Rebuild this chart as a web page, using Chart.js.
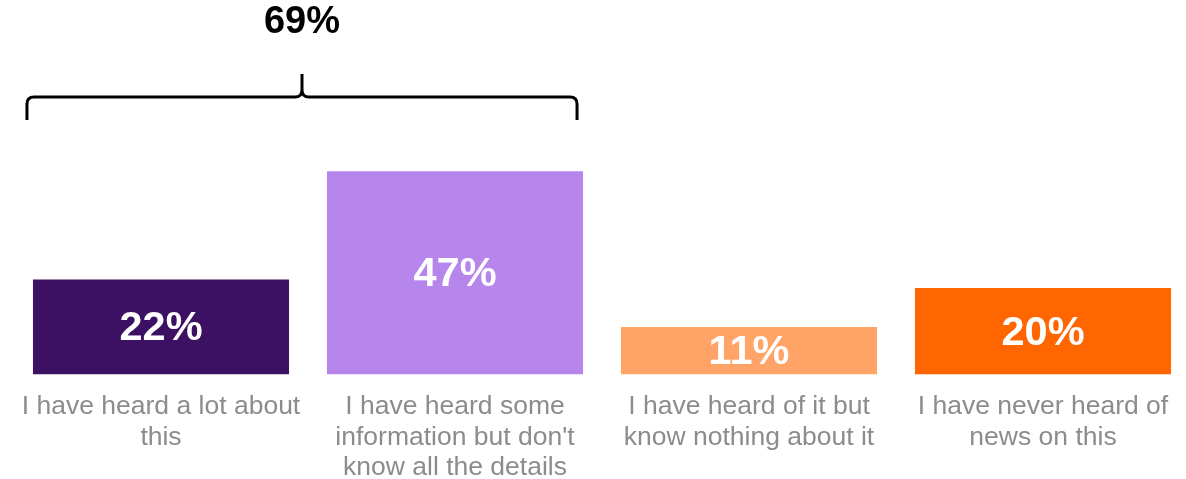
<!DOCTYPE html>
<html>
<head>
<meta charset="utf-8">
<script src="https://cdn.jsdelivr.net/npm/chart.js@4/dist/chart.umd.min.js"></script>
<style>
  html, body { margin: 0; padding: 0; background: #fff; overflow: hidden; }
  #wrap { width: 1190px; height: 479px; }
</style>
</head>
<body>
<div id="wrap"><canvas id="myChart" width="1190" height="479"></canvas></div>
<script>
// answer options, one array per wrapped label
const categories = [
    ["I have heard a lot about", "this"],
    ["I have heard some", "information but don't", "know all the details"],
    ["I have heard of it but", "know nothing about it"],
    ["I have never heard of", "news on this"],
];
const shares = [22, 47, 11, 20];
const barColors = ["#3c1063", "#b686ed", "#ffa466", "#ff6600"];
// bars grouped under the brace
const braceGroup = [0, 1];

// white % labels centred inside each bar
const valueLabels = {
    id: "valueLabels",
    afterDatasetsDraw(chart) {
        const ctx = chart.ctx;
        const meta = chart.getDatasetMeta(0);
        ctx.save();
        ctx.fillStyle = "#ffffff";
        ctx.font = "bold 41.5px 'Liberation Sans', Arial, sans-serif";
        ctx.textAlign = "center";
        ctx.textBaseline = "middle";
        meta.data.forEach((bar, i) => {
            const mid = (bar.y + bar.base) / 2;
            ctx.fillText(shares[i] + "%", bar.x, mid + 2);
        });
        ctx.restore();
    }
};

// curly brace over the first two bars with their combined share
const braceTotal = {
    id: "braceTotal",
    afterDraw(chart) {
        const ctx = chart.ctx;
        const meta = chart.getDatasetMeta(0);
        const first = meta.data[braceGroup[0]];
        const last = meta.data[braceGroup[braceGroup.length - 1]];
        const left = first.x - first.width / 2 - 6;
        const right = last.x + last.width / 2 - 6;
        const mid = (left + right) / 2;
        const yEnd = 120, yLine = 97, yTip = 74, r = 7;

        ctx.save();
        ctx.strokeStyle = "#000";
        ctx.lineWidth = 3;
        ctx.lineJoin = "round";
        ctx.beginPath();
        ctx.moveTo(left, yEnd);
        ctx.lineTo(left, yLine + r);
        ctx.quadraticCurveTo(left, yLine, left + r, yLine);
        ctx.lineTo(mid - r, yLine);
        ctx.quadraticCurveTo(mid, yLine, mid, yLine - r);
        ctx.lineTo(mid, yTip);
        ctx.moveTo(mid, yLine - r);
        ctx.quadraticCurveTo(mid, yLine, mid + r, yLine);
        ctx.lineTo(right - r, yLine);
        ctx.quadraticCurveTo(right, yLine, right, yLine + r);
        ctx.lineTo(right, yEnd);
        ctx.stroke();

        const total = braceGroup.reduce((s, i) => s + shares[i], 0);
        ctx.fillStyle = "#000";
        ctx.font = "bold 38px 'Liberation Sans', Arial, sans-serif";
        ctx.textAlign = "center";
        ctx.textBaseline = "middle";
        ctx.fillText(total + "%", mid, 23);
        ctx.restore();
    }
};

const ctx = document.getElementById("myChart").getContext("2d");
const myChart = new Chart(ctx, {
    type: "bar",
    data: {
        labels: categories,
        datasets: [
            {
                data: shares,
                backgroundColor: barColors,
                borderWidth: 0,
                categoryPercentage: 1,
                barPercentage: 0.871,
            },
        ],
    },
    options: {
        responsive: false,
        animation: false,
        layout: { padding: { top: 115, left: 14, right: 0, bottom: -21 } },
        plugins: {
            legend: { display: false },
            tooltip: { enabled: false },
        },
        scales: {
            x: {
                grid: { display: false, drawTicks: false },
                border: { display: false },
                ticks: {
                    autoSkip: false,
                    maxRotation: 0,
                    padding: 17,
                    color: "#8c8c8c",
                    font: { family: "'Liberation Sans', Arial, sans-serif", size: 26.5, lineHeight: 1.15 },
                },
            },
            y: {
                display: false,
                min: 0,
                max: 60,
            },
        },
    },
    plugins: [valueLabels, braceTotal],
});
</script>
</body>
</html>
